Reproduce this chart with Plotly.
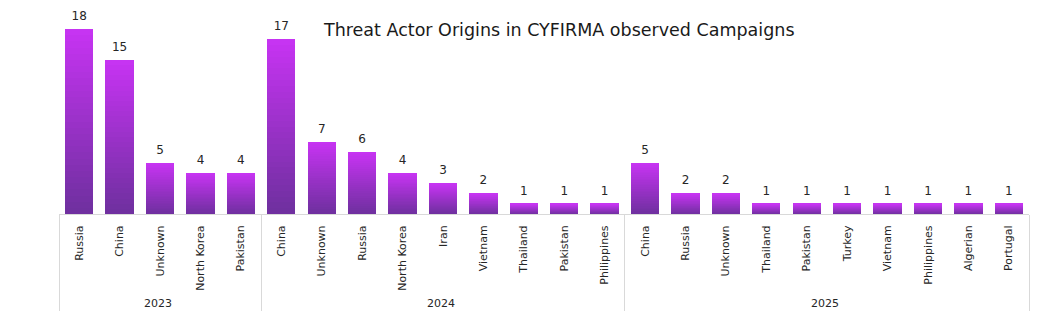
import plotly.graph_objects as go
import numpy as np

years = ["2023"] * 5 + ["2024"] * 9 + ["2025"] * 10
countries = [
    "Russia", "China", "Unknown", "North Korea", "Pakistan",
    "China", "Unknown", "Russia", "North Korea", "Iran", "Vietnam", "Thailand", "Pakistan", "Philippines",
    "China", "Russia", "Unknown", "Thailand", "Pakistan", "Turkey", "Vietnam", "Philippines", "Algerian", "Portugal",
]
counts = [18, 15, 5, 4, 4, 17, 7, 6, 4, 3, 2, 1, 1, 1, 5, 2, 2, 1, 1, 1, 1, 1, 1, 1]

title_text = "Threat Actor Origins in CYFIRMA observed Campaigns"

FONT = "DejaVu Sans"
bottom_rgb = np.array([112, 48, 160])
top_rgb = np.array([198, 52, 242])
N = 30

# Plotly orders multicategory sub-labels by first global appearance; make each
# label unique per year with invisible zero-width characters to keep data order.
year_list = sorted(set(years))
labels = [c + "\u200b" * year_list.index(y) for y, c in zip(years, countries)]
xcat = [years, labels]

fig = go.Figure()
vals = np.array(counts, dtype=float)
for i in range(N):
    t = i / (N - 1)
    c = bottom_rgb + (top_rgb - bottom_rgb) * t
    fig.add_trace(go.Bar(
        x=xcat, y=vals / N,
        marker=dict(color=f"rgb({int(c[0])},{int(c[1])},{int(c[2])})", line=dict(width=0)),
        showlegend=False, hoverinfo="skip",
    ))

fig.add_trace(go.Scatter(
    x=xcat, y=counts, mode="markers+text", text=[str(v) for v in counts],
    marker=dict(size=8, opacity=0),
    textposition="top center", textfont=dict(size=12, color="#262626", family=FONT),
    showlegend=False, hoverinfo="skip", cliponaxis=False,
))

fig.update_layout(
    barmode="stack", bargap=0.3,
    width=1051, height=325,
    margin=dict(l=59, r=22, t=10, b=111),
    paper_bgcolor="white", plot_bgcolor="white",
    font=dict(family=FONT, color="#262626"),
    annotations=[dict(text=title_text, xref="paper", x=(559 - 59) / 970,
                      yref="paper", y=(325 - 111 - 30) / 204, yanchor="middle",
                      showarrow=False, font=dict(size=17.5, color="#1a1a1a", family=FONT))],
)
fig.update_xaxes(
    type="multicategory", tickangle=-90, showline=True, linecolor="#d9d9d9", linewidth=1,
    showgrid=False, ticks="", tickfont=dict(size=11, color="#262626", family=FONT),
    showdividers=True, dividercolor="#d9d9d9", dividerwidth=1,
    range=[-0.5, len(counts) - 0.5], ticklabelstandoff=6,
)
fig.update_yaxes(range=[0, 19.85], visible=False, showgrid=False)

fig.write_html("out.html")
